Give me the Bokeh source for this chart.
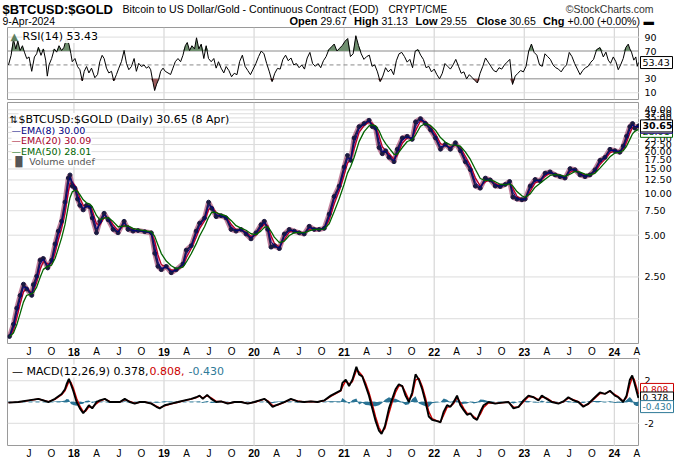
import numpy as np
from bokeh.plotting import figure
from bokeh.layouts import column, row
from bokeh.models import Range1d, Span, Label
from bokeh.core.properties import value
from bokeh.embed import file_html
from bokeh.resources import INLINE

# ---------------- data (time in decimal years) ----------------
price_t_2017 = [2017.284, 2017.328, 2017.365, 2017.402, 2017.439, 2017.475, 2017.531, 2017.549, 2017.586, 2017.624,
                2017.660, 2017.708, 2017.752, 2017.790, 2017.826, 2017.863, 2017.900, 2017.937, 2017.956, 2017.981]
price_v_2017 = [0.93, 1.14, 1.49, 1.84, 2.22, 2.05, 1.84, 2.2, 2.53, 3.31, 3.4, 2.9, 3.3, 4.32, 5.35, 6.3, 8.66, 12.9, 13.6, 11.3]
price_t_2018 = [2018.011, 2018.040, 2018.066, 2018.103, 2018.139, 2018.177, 2018.203, 2018.250, 2018.288, 2018.335, 2018.380,
                2018.435, 2018.490, 2018.557, 2018.601, 2018.656, 2018.712, 2018.786, 2018.859, 2018.897, 2018.933, 2018.970]
price_v_2018 = [10.9, 9.1, 8.2, 7.6, 8.2, 8.0, 6.65, 5.2, 6.3, 7.2, 6.45, 5.5, 5.2, 6.3, 5.5, 5.35, 5.4, 5.3, 5.2, 3.7, 2.98, 2.82]
price_t_2019 = [2019.025, 2019.080, 2019.136, 2019.210, 2019.247, 2019.302, 2019.357, 2019.395, 2019.450, 2019.495,
                2019.531, 2019.579, 2019.634, 2019.689, 2019.745, 2019.800, 2019.855, 2019.911, 2019.966]
price_v_2019 = [2.98, 2.68, 2.82, 3.1, 3.9, 4.2, 5.35, 6.1, 6.65, 8.66, 7.8, 6.8, 6.9, 6.65, 5.5, 5.35, 5.5, 5.1, 4.7]
price_t_2020 = [2020.021, 2020.077, 2020.114, 2020.151, 2020.188, 2020.225, 2020.281, 2020.336, 2020.391, 2020.447,
                2020.502, 2020.557, 2020.613, 2020.668, 2020.723, 2020.779, 2020.834, 2020.889, 2020.945]
price_v_2020 = [5.2, 5.95, 6.3, 5.5, 4.1, 4.2, 4.0, 5.1, 5.5, 5.35, 5.2, 5.1, 5.8, 5.5, 5.5, 5.6, 7.1, 9.5, 11.3]
price_t_2021 = [2021.000, 2021.037, 2021.073, 2021.111, 2021.166, 2021.222, 2021.277, 2021.313, 2021.350, 2021.388, 2021.424,
                2021.461, 2021.498, 2021.554, 2021.590, 2021.646, 2021.701, 2021.756, 2021.793, 2021.848, 2021.903, 2021.959]
price_v_2021 = [15.5, 18.8, 17.3, 25.1, 30.3, 31.9, 33.7, 30.3, 29.5, 21.4, 19.3, 20.3, 18.2, 16.9, 20.8, 25.1, 25.8, 24.5,
                32.8, 34.6, 31.9, 28.7]
price_t_2022 = [2022.014, 2022.070, 2022.125, 2022.180, 2022.236, 2022.291, 2022.346, 2022.402, 2022.457, 2022.512,
                2022.568, 2022.623, 2022.678, 2022.734, 2022.789, 2022.838, 2022.874, 2022.919, 2022.974]
price_v_2022 = [25.1, 20.8, 22.6, 20.8, 23.2, 20.3, 16.9, 14.8, 11.3, 10.9, 12.9, 12.5, 11.3, 11.2, 11.6, 12.2, 9.4, 9.1, 9.0]
price_t_2023 = [2023.010, 2023.066, 2023.121, 2023.177, 2023.232, 2023.287, 2023.343, 2023.398, 2023.453, 2023.509,
                2023.564, 2023.619, 2023.675, 2023.730, 2023.785, 2023.841, 2023.896, 2023.952]
price_v_2023 = [9.1, 11.3, 12.6, 12.3, 14.0, 14.3, 13.6, 13.2, 12.9, 15.1, 14.8, 13.6, 13.2, 13.6, 14.8, 17.3, 18.2, 20.8]
price_t_2024 = [2024.007, 2024.062, 2024.100, 2024.136, 2024.173, 2024.203, 2024.228, 2024.268]
price_v_2024 = [20.3, 19.8, 22.0, 25.8, 30.3, 31.9, 29.5, 30.65]

rsi_t_a = [2017.273, 2017.302, 2017.328, 2017.354, 2017.376, 2017.402, 2017.428, 2017.450, 2017.476, 2017.501,
           2017.531, 2017.561, 2017.586, 2017.605, 2017.634, 2017.660, 2017.686, 2017.704, 2017.723, 2017.752,
           2017.782, 2017.808, 2017.834, 2017.863, 2017.889, 2017.918, 2017.944, 2017.966, 2017.981]
rsi_v_a = [50, 63.8, 86.8, 73, 84.5, 70.7, 77.6, 68.4, 59, 61.5, 40.8, 61.5, 66, 75.3, 63.8, 73, 56.9, 33.9, 50, 59.2,
           73, 68.4, 77.6, 70.7, 75.3, 89, 79.9, 66, 54.6]
rsi_t_b = [2018.011, 2018.040, 2018.066, 2018.092, 2018.114, 2018.140, 2018.166, 2018.195, 2018.232, 2018.262,
           2018.287, 2018.313, 2018.335, 2018.361, 2018.387, 2018.417, 2018.442, 2018.472, 2018.498, 2018.527,
           2018.557, 2018.583, 2018.609, 2018.638, 2018.668, 2018.693, 2018.719, 2018.749, 2018.778, 2018.804,
           2018.830, 2018.852, 2018.878, 2018.896, 2018.918, 2018.941, 2018.963, 2018.989]
rsi_v_b = [59.2, 47.7, 43.1, 27, 40.8, 47.7, 38.5, 45.4, 31.6, 36.2, 54.6, 63.8, 59.2, 45.4, 38.5, 40.8, 27, 36.2, 45.4, 54.6,
           70.7, 52.3, 43.1, 47.7, 59.2, 40.8, 52.3, 47.7, 50, 45.4, 47.7, 43.1, 24.7, 13.2, 22.4, 29.3, 40.8, 45.4]
rsi_t_c = [2019.014, 2019.044, 2019.073, 2019.099, 2019.125, 2019.155, 2019.184, 2019.210, 2019.236, 2019.258,
           2019.284, 2019.310, 2019.339, 2019.361, 2019.387, 2019.413, 2019.442, 2019.468, 2019.494, 2019.524,
           2019.553, 2019.579, 2019.605, 2019.634, 2019.664, 2019.690,
           2019.72, 2019.75, 2019.78, 2019.81, 2019.84, 2019.87, 2019.90, 2019.93, 2019.96, 2019.99]
rsi_v_c = [40.8, 38.5, 36.2, 45.4, 54.6, 59.2, 54.6, 63.8, 77.6, 82.2, 70.7, 77.6, 73, 89, 73, 79.9, 59.2, 77.6, 59.2, 54.6,
           59.2, 45.4, 54.6, 45.4, 38.5, 47.7,
           42, 33, 38, 36, 55, 64, 48, 42, 36, 44]
rsi_t_d = [2020.02, 2020.05, 2020.08, 2020.11, 2020.14, 2020.17, 2020.20, 2020.23, 2020.26, 2020.29, 2020.32,
           2020.35, 2020.38, 2020.41, 2020.44, 2020.47, 2020.50, 2020.53, 2020.56, 2020.59, 2020.62, 2020.65,
           2020.68, 2020.71, 2020.74, 2020.77, 2020.80, 2020.83, 2020.86, 2020.89, 2020.92, 2020.95, 2020.98]
rsi_v_d = [52, 62, 70, 66, 52, 40, 26, 38, 45, 44, 58, 64, 56, 60, 50, 52, 46, 50, 44, 60, 68, 52, 48, 52, 46, 56, 62,
           72, 76, 80, 70, 74, 78]
rsi_t_e = [2021.01, 2021.04, 2021.07, 2021.10, 2021.13, 2021.16, 2021.19, 2021.22, 2021.25, 2021.28, 2021.31,
           2021.34, 2021.37, 2021.40, 2021.43, 2021.46, 2021.49, 2021.52, 2021.55, 2021.58, 2021.61, 2021.64,
           2021.67, 2021.70, 2021.73, 2021.76, 2021.79, 2021.82, 2021.85, 2021.88, 2021.91, 2021.94, 2021.97]
rsi_v_e = [84, 88, 62, 66, 92, 78, 66, 58, 62, 64, 48, 50, 40, 26, 34, 46, 40, 44, 36, 56, 66, 68, 62, 54, 58, 46, 70,
           72, 64, 58, 46, 48, 40]
rsi_t_f = [2022.00, 2022.03, 2022.06, 2022.09, 2022.12, 2022.15, 2022.18, 2022.21, 2022.24, 2022.27, 2022.30,
           2022.33, 2022.36, 2022.39, 2022.42, 2022.45, 2022.48, 2022.51, 2022.54, 2022.57, 2022.60, 2022.63,
           2022.66, 2022.69, 2022.72, 2022.75, 2022.78, 2022.81, 2022.84, 2022.87, 2022.90, 2022.93, 2022.96, 2022.99]
rsi_v_f = [44, 36, 30, 38, 52, 48, 44, 50, 58, 48, 38, 40, 30, 36, 32, 28, 24, 38, 48, 60, 54, 48, 42, 40, 46, 44, 50,
           54, 58, 22, 34, 38, 42, 40]
rsi_t_g = [2023.02, 2023.05, 2023.08, 2023.11, 2023.14, 2023.17, 2023.20, 2023.23, 2023.26, 2023.29, 2023.32,
           2023.35, 2023.38, 2023.41, 2023.44, 2023.47, 2023.50, 2023.53, 2023.56, 2023.59, 2023.62, 2023.65,
           2023.68, 2023.71, 2023.74, 2023.77,
           2023.804, 2023.841, 2023.878, 2023.907, 2023.933, 2023.959, 2023.989,
           2024.018, 2024.044, 2024.070, 2024.099, 2024.129, 2024.155, 2024.173, 2024.191, 2024.217, 2024.239,
           2024.255, 2024.268]
rsi_v_g = [48, 70, 80, 68, 64, 50, 48, 66, 62, 58, 50, 46, 44, 40, 46, 50, 68, 62, 52, 44, 36, 42, 46, 48, 54, 58,
           72, 75, 61.5, 68.4, 56.9, 52.3, 61.5,
           54.6, 43.1, 50, 59.2, 75.3, 79.9, 73, 68.4, 56.9, 61.5, 48, 53.43]

macd_t_a = [2017.273, 2017.383, 2017.494, 2017.605, 2017.716, 2017.789, 2017.863, 2017.900, 2017.918, 2017.944,
            2017.966, 2017.992]
macd_v_a = [-0.06, 0, 0.15, 0.3, 0, 0.3, 0.76, 1.2, 1.67, 2.18, 1.67, 1.06]
macd_t_b = [2018.029, 2018.066, 2018.103, 2018.129, 2018.166, 2018.203, 2018.251, 2018.287, 2018.343, 2018.398,
            2018.454, 2018.509, 2018.564, 2018.620, 2018.675, 2018.730, 2018.786, 2018.859, 2018.915, 2018.952]
macd_v_b = [0, -0.6, -1.06, -0.76, -0.3, -0.6, 0, 0.15, 0.3, 0, 0, 0, 0.3, 0, -0.15, 0, 0, -0.15, -0.45, -0.6]
macd_t_c = [2019.007, 2019.081, 2019.155, 2019.228, 2019.302, 2019.358, 2019.395, 2019.431, 2019.479, 2019.524,
            2019.579, 2019.634, 2019.708, 2019.782, 2019.856, 2019.930]
macd_v_c = [-0.3, -0.15, 0, 0.15, 0.3, 0.45, 0.6, 0.3, 0.67, 0.3, 0, 0.06, -0.15, 0, 0, -0.15]
macd_t_d = [2020.003, 2020.059, 2020.114, 2020.158, 2020.206, 2020.262, 2020.335, 2020.409, 2020.483, 2020.557,
            2020.631, 2020.704, 2020.778, 2020.852, 2020.963, 2020.981]
macd_v_d = [0, 0.15, 0.3, 0, -0.45, -0.24, 0, 0.3, 0.06, 0, 0.06, 0, 0.15, 0.6, 1.1, 1.8]
macd_t_e = [2021.018, 2021.055, 2021.092, 2021.136, 2021.166, 2021.202, 2021.239, 2021.276, 2021.313, 2021.350,
            2021.387, 2021.416, 2021.453, 2021.498, 2021.534, 2021.571, 2021.608, 2021.645, 2021.682, 2021.719,
            2021.756, 2021.793, 2021.830, 2021.867, 2021.904, 2021.940, 2021.977]
macd_v_e = [2.1, 1.5, 2.1, 3.3, 2.6, 2.4, 1.5, 0.6, -0.6, -1.8, -2.7, -3.0, -2.27, -0.6, 0.3, 1.2, 1.67, 1.5, 0.6, 0,
            0.9, 2.6, 2.1, 1.2, 0, -1.36, -1.67]
macd_t_f = [2022.033, 2022.070, 2022.106, 2022.143, 2022.180, 2022.217, 2022.254, 2022.291, 2022.328, 2022.365,
            2022.402, 2022.439, 2022.476, 2022.513, 2022.549, 2022.605, 2022.678, 2022.752, 2022.826, 2022.881,
            2022.937, 2022.992]
macd_v_f = [-1.8, -1.9, -0.9, -0.3, -0.45, 0, 0.6, -0.3, -0.76, -1.2, -1.06, -1.5, -1.67, -0.9, -0.3, 0, -0.15, -0.06,
            0, -0.6, -0.45, 0.15]
macd_t_g = [2023.047, 2023.103, 2023.158, 2023.195, 2023.250, 2023.306, 2023.380, 2023.435, 2023.490, 2023.546,
            2023.601, 2023.656, 2023.712, 2023.785, 2023.841, 2023.896, 2023.952,
            2024.007, 2024.044, 2024.099, 2024.136, 2024.173, 2024.199, 2024.220, 2024.245, 2024.268]
macd_v_g = [0.6, 0.45, 0.15, 0.6, 0.3, 0, -0.15, 0.06, 0.45, 0.15, 0, -0.45, -0.15, 0.45, 0.9, 0.76, 1.06,
            0.6, 0.45, 0, 0.6, 2.1, 2.5, 1.9, 1.1, 0.378]

quarter_labels = ["J", "O", "18", "A", "J", "O", "19", "A", "J", "O", "20", "A", "J", "O", "21", "A", "J", "O",
                  "22", "A", "J", "O", "23", "A", "J", "O", "24", "A"]
year_lines = [2018, 2019, 2020, 2021, 2022, 2023, 2024]
price_ticks = [2.5, 5, 7.5, 10, 12.5, 15, 17.5, 20, 22.5, 25, 27.5, 30, 32.5, 35, 37.5, 40]
price_grid = [1.25] + price_ticks
rsi_ticks = [10, 30, 70, 90]
macd_ticks = [-2, 2]
last_close, last_ema8, last_ema20, last_ema50 = 30.65, 30.00, 30.09, 28.01
last_rsi = 53.43
last_macd, last_signal, last_hist = 0.378, 0.808, -0.430

price_t = np.array(price_t_2017 + price_t_2018 + price_t_2019 + price_t_2020 + price_t_2021 + price_t_2022 + price_t_2023 + price_t_2024)
price_v = np.array(price_v_2017 + price_v_2018 + price_v_2019 + price_v_2020 + price_v_2021 + price_v_2022 + price_v_2023 + price_v_2024)
rsi_t = np.array(rsi_t_a + rsi_t_b + rsi_t_c + rsi_t_d + rsi_t_e + rsi_t_f + rsi_t_g)
rsi_v = np.array(rsi_v_a + rsi_v_b + rsi_v_c + rsi_v_d + rsi_v_e + rsi_v_f + rsi_v_g, dtype=float)
macd_t = np.array(macd_t_a + macd_t_b + macd_t_c + macd_t_d + macd_t_e + macd_t_f + macd_t_g)
macd_v = np.array(macd_v_a + macd_v_b + macd_v_c + macd_v_d + macd_v_e + macd_v_f + macd_v_g, dtype=float)


def ema(t, v, n):
    """EMA(n days) of a piecewise-linear series sampled at decimal-year times."""
    tau = -1.0 / np.log(1 - 2.0 / (n + 1)) / 365.25
    e = np.empty(len(v))
    e[0] = v[0]
    for i in range(1, len(v)):
        dt = t[i] - t[i - 1]
        s = (v[i] - v[i - 1]) / dt
        k = np.exp(-dt / tau)
        e[i] = v[i] - s * tau + (e[i - 1] - v[i - 1] + s * tau) * k
    return e


ema8 = ema(price_t, price_v, 8)
ema20 = ema(price_t, price_v, 20)
ema50 = ema(price_t, price_v, 50)
signal = ema(macd_t, macd_v, 9)
hist = macd_v - signal

# ---------------- layout ----------------
W = 674
LB, FW = 7, 632
RB = W - LB - FW          # width of the right-hand scale column
X0, X1 = 2017.262, 2024.28
DPP = (X1 - X0) / FW
LEG_FONT = "DejaVu Sans"
AX_FONT = "DejaVu Sans"
LAB_FONT = "Liberation Sans"

xr = Range1d(X0, X1)


def panel(h, yrange, ytype="linear", bottom=0):
    p = figure(width=LB + FW, height=h, x_range=xr, y_range=yrange, y_axis_type=ytype,
               x_axis_location=None, y_axis_location=None, title=None,
               toolbar_location=None, output_backend="svg", min_border=0)
    p.min_border_left = LB
    p.min_border_bottom = bottom
    p.grid.visible = False
    p.outline_line_color = "#9a9a9a"
    p.background_fill_color = "white"
    p.border_fill_color = "white"
    for yr in year_lines:
        p.add_layout(Span(location=yr, dimension="height", line_color="#cfcfcf", line_width=1, level="underlay"))
    return p


def side(h, yrange, ytype="linear", bottom=0):
    s = figure(width=RB, height=h, x_range=Range1d(0, RB), y_range=yrange, y_axis_type=ytype,
               x_axis_location=None, y_axis_location=None, title=None,
               toolbar_location=None, output_backend="svg", min_border=0)
    s.min_border_bottom = bottom
    s.grid.visible = False
    s.outline_line_color = None
    return s


def ticks(s, vals, labels):
    s.text(x=[5] * len(vals), y=vals, text=labels, text_font=value(AX_FONT), text_font_size="9.5px",
           text_baseline="middle", text_align="left", text_color="black")


def vbox(s, y, text, color, bold=False, size="9.5px", w=32):
    s.rect(x=[1 + w / 2], y=[y], width=w, height=12, width_units="screen", height_units="screen",
           fill_color="white", line_color=color, line_width=1)
    s.text(x=[3], y=[y], text=[text], text_font=value(AX_FONT), text_font_size=size,
           text_font_style="bold" if bold else "normal", text_baseline="middle", text_align="left",
           text_color=color)


def hline(p, v, color, dash="solid"):
    p.add_layout(Span(location=v, dimension="width", line_color=color, line_width=1, line_dash=dash, level="underlay"))


def legend(p, ytop, xoff, ybase, text, color, size="11px", bg=True):
    p.add_layout(Label(x=X0, y=ytop, x_offset=xoff, y_offset=-ybase, text=text, text_color=color,
                       text_font=LEG_FONT, text_font_size=size,
                       text_baseline="alphabetic", text_align="left",
                       background_fill_color="white" if bg else None, background_fill_alpha=0.9))


# ---- title strip (27 px) ----
TH = 27
tfig = figure(width=W, height=TH, x_range=Range1d(0, W), y_range=Range1d(0, TH), x_axis_location=None,
              y_axis_location=None, toolbar_location=None, output_backend="svg", min_border=0)
tfig.grid.visible = False
tfig.outline_line_color = None
L1, L2 = TH - 8.5, TH - 20.5
tfig.text(x=[2], y=[L1], text=["$BTCUSD:$GOLD"], text_font=value(LAB_FONT), text_font_size="13px",
          text_font_style="bold", text_baseline="middle", text_color="black")
tfig.text(x=[122], y=[L1], text=["Bitcoin to US Dollar/Gold - Continuous Contract (EOD)"],
          text_font=value(LAB_FONT), text_font_size="10.6px", text_baseline="middle", text_color="black")
tfig.text(x=[388], y=[L1], text=["CRYPT/CME"],
          text_font=value(LAB_FONT), text_font_size="10px", text_baseline="middle", text_color="black")
tfig.text(x=[653], y=[L1], text=["\u00a9StockCharts.com"], text_font=value(LAB_FONT), text_font_size="10.5px",
          text_baseline="middle", text_align="right", text_color="#333333")
tfig.text(x=[2], y=[L2], text=["9-Apr-2024"], text_font=value(LAB_FONT), text_font_size="10.5px",
          text_baseline="middle", text_color="black")
tfig.text(x=[317, 378, 437, 506, 564], y=[L2] * 5, text=["Open", "High", "Low", "Close", "Chg"],
          text_font=value(LAB_FONT), text_font_size="11px", text_font_style="bold", text_baseline="middle",
          text_align="right", text_color="black")
tfig.text(x=[320, 381, 440, 509, 567, 643], y=[L2] * 6,
          text=["29.67", "31.13", "29.55", "30.65", "+0.00 (+0.00%)", "\u25ac"],
          text_font=value(LAB_FONT), text_font_size="10.5px", text_baseline="middle", text_color="black")

# ---- RSI panel ----
rsi_y = Range1d(0.3, 103.8)
rsi = panel(75, rsi_y, bottom=3)
hline(rsi, 10, "#dddddd")
hline(rsi, 90, "#dddddd")
hline(rsi, 70, "#8a8a8a")
hline(rsi, 30, "#8a8a8a")
hline(rsi, 50, "#8a8a8a", "4 3")
rsi.varea(x=rsi_t, y1=70, y2=np.maximum(rsi_v, 70), fill_color="#6f8f6f")
rsi.varea(x=rsi_t, y1=np.minimum(rsi_v, 30), y2=30, fill_color="#9a5c5c")
rsi.line(rsi_t, rsi_v, line_color="black", line_width=1)
legend(rsi, 103.8, 3, 9, "\u25b2", "#5f7f5f", size="10px", bg=False)
legend(rsi, 103.8, 15, 9, "RSI(14) 53.43", "black", size="11px")
rsi_s = side(75, rsi_y, bottom=3)
ticks(rsi_s, rsi_ticks, [str(v) for v in rsi_ticks])
vbox(rsi_s, last_rsi, "53.43", "black")

# ---- main price panel ----
main_y = Range1d(0.815, 45.2)
main = panel(242, main_y, ytype="log")
for g in price_grid:
    hline(main, g, "#dcdcdc")
main.line(price_t, price_v, line_color="#9c2f5c", line_width=5, line_alpha=0.6)
main.line(price_t, ema20, line_color="#b5002b", line_width=1.4)
main.line(price_t, price_v, line_color="#20204a", line_width=1.8)
main.scatter(price_t, price_v, size=3.8, color="#1a1a40")
main.line(price_t, ema8, line_color="#000080", line_width=1)
main.line(price_t, ema50, line_color="#006400", line_width=1.3)
legend(main, 45.2, 2, 17, "\u21c5", "black", size="10px", bg=False)
legend(main, 45.2, 11, 17, "$BTCUSD:$GOLD (Daily) 30.65 (8 Apr)", "black", size="11px")
legend(main, 45.2, 4, 27.5, "\u2014EMA(8) 30.00", "#000080", size="9.5px")
legend(main, 45.2, 4, 38, "\u2014EMA(20) 30.09", "#a5002a", size="9.5px")
legend(main, 45.2, 4, 48.5, "\u2014EMA(50) 28.01", "#006400", size="9.5px")
legend(main, 45.2, 4, 58.5, "\u2590\u258c Volume undef", "#555555", size="9.5px")
main_s = side(242, main_y, ytype="log")
ticks(main_s, price_ticks, ["%.2f" % v for v in price_ticks])
vbox(main_s, last_ema50, "28.01", "#006400")
vbox(main_s, last_ema20, "30.09", "#b5002b")
vbox(main_s, last_ema8, "30.00", "#000080")
vbox(main_s, last_close, "30.65", "black", bold=True)

# ---- x label strips ----
qpos = [2017.5 + 0.25 * i for i in range(len(quarter_labels))]


def strip(h):
    s = figure(width=W, height=h, x_range=Range1d(X0 - LB * DPP, X1 + RB * DPP), y_range=Range1d(0, 1),
               x_axis_location=None, y_axis_location=None, toolbar_location=None, output_backend="svg", min_border=0)
    s.grid.visible = False
    s.outline_line_color = None
    mx = [q for q, l in zip(qpos, quarter_labels) if not l.isdigit()]
    ml = [l for l in quarter_labels if not l.isdigit()]
    yx = [q for q, l in zip(qpos, quarter_labels) if l.isdigit()]
    yl = [l for l in quarter_labels if l.isdigit()]
    s.text(x=mx, y=[0.5] * len(mx), text=ml, text_font=value(LAB_FONT), text_font_size="10px",
           text_align="center", text_baseline="middle", text_color="black")
    s.text(x=yx, y=[0.5] * len(yx), text=yl, text_font=value(LAB_FONT), text_font_size="10.5px",
           text_font_style="bold", text_align="center", text_baseline="middle", text_color="black")
    return s


s1 = strip(14)

# ---- MACD panel ----
macd_y = Range1d(-4.18, 4.09)
macd = panel(88, macd_y)
hline(macd, 2, "#dcdcdc")
hline(macd, -2, "#dcdcdc")
macd.varea(x=macd_t, y1=0, y2=hist, fill_color="#2a7394")
hline(macd, 0, "#4f8fa8", "4 3")
macd.line(macd_t, signal, line_color="#d00000", line_width=1.4)
macd.line(macd_t, macd_v, line_color="black", line_width=1.9)
legend(macd, 4.09, 4.5, 12.5, "\u2014 MACD(12,26,9) 0.378,", "black", size="11px")
legend(macd, 4.09, 142, 12.5, "0.808,", "#cc0000", size="11px", bg=False)
legend(macd, 4.09, 181, 12.5, "-0.430", "#2f7a98", size="11px", bg=False)
macd_s = side(88, macd_y)
ticks(macd_s, macd_ticks, [str(v) for v in macd_ticks])
px_unit = (macd_y.end - macd_y.start) / 88.0
vbox(macd_s, last_signal + 4 * px_unit, "0.808", "#cc0000", size="9px", w=33)
vbox(macd_s, last_macd, "0.378", "black", size="9px", w=33)
vbox(macd_s, last_hist, "-0.430", "#2f7a98", size="9px", w=33)

s2 = strip(13)

layout = column(tfig, row(rsi, rsi_s, spacing=0), row(main, main_s, spacing=0), s1,
                row(macd, macd_s, spacing=0), s2, spacing=0)
open("out.html", "w").write(file_html(layout, INLINE, "BTCUSD:GOLD"))
